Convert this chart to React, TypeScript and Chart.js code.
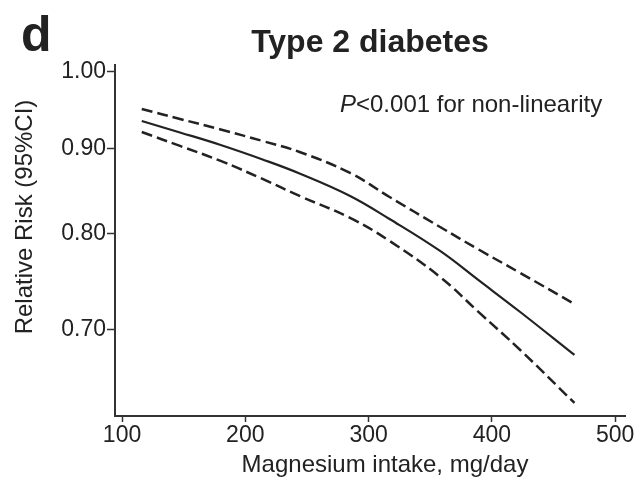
import React, { useEffect, useRef } from "react";
import { Chart, registerables } from "chart.js";

Chart.register(...registerables);

const intake = [116, 147, 180, 214, 244, 285, 317, 358, 390, 423, 467];
const rrEstimate = [0.9345, 0.9198, 0.904, 0.8861, 0.8691, 0.8425, 0.8161, 0.7808, 0.7491, 0.7176, 0.6762];
const rrUpper = [0.9501, 0.9371, 0.9236, 0.909, 0.8953, 0.8697, 0.8413, 0.8071, 0.7818, 0.7574, 0.7256];
const rrLower = [0.9204, 0.9028, 0.8843, 0.8625, 0.8425, 0.8173, 0.7917, 0.7532, 0.7167, 0.6809, 0.6328];

const xTicks = [100, 200, 300, 400, 500];
const yTicks = [0.7, 0.8, 0.9, 1.0];

const panelLetter = "d";
const titleText = "Type 2 diabetes";
const xTitle = "Magnesium intake, mg/day";
const yTitle = "Relative Risk (95%CI)";
const noteItalic = "P";
const noteRest = "<0.001 for non-linearity";

const FONT = '"Liberation Sans", Arial, Helvetica, sans-serif';
const INK = "#222";

export default function App() {
  const ref = useRef<HTMLCanvasElement | null>(null);

  useEffect(() => {
    if (!ref.current) return;
    const toPts = (ys: number[]) => intake.map((x, i) => ({ x, y: ys[i] }));

    const textPlugin = {
      id: "texts",
      afterDraw(chart: any) {
        const ctx = chart.ctx as CanvasRenderingContext2D;
        ctx.save();
        ctx.fillStyle = INK;
        ctx.font = `bold 50px ${FONT}`;
        ctx.textAlign = "left";
        ctx.textBaseline = "alphabetic";
        ctx.fillText(panelLetter, 21, 51);
        ctx.font = `bold 32px ${FONT}`;
        ctx.textAlign = "center";
        ctx.fillText(titleText, 370, 52);
        ctx.textAlign = "left";
        ctx.font = `italic 24px ${FONT}`;
        ctx.fillText(noteItalic, 340, 112);
        const w = ctx.measureText(noteItalic).width;
        ctx.font = `24px ${FONT}`;
        ctx.fillText(noteRest, 340 + w, 112);
        ctx.textAlign = "center";
        ctx.font = `24px ${FONT}`;
        ctx.fillText(xTitle, 385, 472);
        ctx.translate(32, 217);
        ctx.rotate(-Math.PI / 2);
        ctx.font = `24px ${FONT}`;
        ctx.fillText(yTitle, 0, 0);
        ctx.restore();
      },
    };

    const lineBase = {
      borderColor: INK,
      pointRadius: 0,
      tension: 0.4,
      fill: false,
    };

    const chart = new Chart(ref.current, {
      type: "line",
      data: {
        datasets: [
          { ...lineBase, data: toPts(rrUpper), borderWidth: 2.5, borderDash: [11, 5] },
          { ...lineBase, data: toPts(rrEstimate), borderWidth: 2.2 },
          { ...lineBase, data: toPts(rrLower), borderWidth: 2.5, borderDash: [11, 5] },
        ],
      },
      options: {
        animation: false,
        responsive: false,
        devicePixelRatio: 1,
        layout: { padding: { top: 65, right: 13, left: 0, bottom: 0 } },
        plugins: {
          legend: { display: false },
          tooltip: { enabled: false },
          title: { display: false },
        },
        scales: {
          x: {
            type: "linear",
            min: 94.3,
            max: 508,
            afterFit: (s: any) => {
              s.height = 68;
            },
            afterBuildTicks: (s: any) => {
              s.ticks = xTicks.map((v) => ({ value: v }));
            },
            ticks: {
              color: INK,
              font: { family: FONT, size: 23 },
              padding: 0,
              maxRotation: 0,
              autoSkip: false,
            },
            grid: {
              drawOnChartArea: false,
              drawTicks: true,
              tickLength: 6,
              tickWidth: 1.5,
              tickColor: "#333",
            },
            border: { display: true, color: "#333", width: 2 },
          },
          y: {
            type: "logarithmic",
            min: 0.6215,
            max: 1.0097,
            afterFit: (s: any) => {
              s.width = 115;
            },
            afterBuildTicks: (s: any) => {
              s.ticks = yTicks.map((v) => ({ value: v }));
            },
            ticks: {
              color: INK,
              font: { family: FONT, size: 23 },
              padding: 1,
              autoSkip: false,
              callback: (v: any) => Number(v).toFixed(2),
            },
            grid: {
              drawOnChartArea: false,
              drawTicks: true,
              tickLength: 8,
              tickWidth: 1.5,
              tickColor: "#333",
            },
            border: { display: true, color: "#333", width: 2 },
          },
        },
      },
      plugins: [textPlugin],
    } as any);

    return () => chart.destroy();
  }, []);

  return (
    <div style={{ position: "absolute", left: 0, top: 0, width: 638, height: 484, background: "#fff" }}>
      <canvas ref={ref} width={638} height={484} style={{ display: "block" }} />
    </div>
  );
}
